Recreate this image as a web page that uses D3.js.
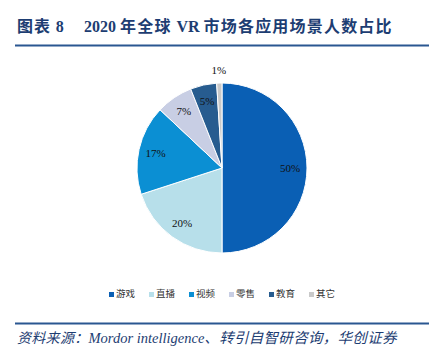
<!DOCTYPE html>
<html>
<head>
<meta charset="utf-8">
<script src="https://cdn.jsdelivr.net/npm/d3@7"></script>
<style>
  body { margin: 0; background: #fff; }
  text { white-space: pre; }
</style>
</head>
<body>
<div id="chart"></div>
<script>
const w = 429;
const h = 363;

const categories = ["游戏", "直播", "视频", "零售", "教育", "其它"];
const values = [50, 20, 17, 7, 5, 1];
const colors = ["#0a5fb4", "#b7dfea", "#0b8fd3", "#c8cee4", "#275c8f", "#c9c9c9"];

const navy = "#1d3d72";

const svg = d3.select("div#chart")
  .append("svg")
    .attr("width", w)
    .attr("height", h);

// title
const title = svg.append("text")
    .attr("x", 17)
    .attr("y", 32)
    .attr("fill", navy)
    .attr("font-weight", "bold")
    .attr("font-size", 16);
title.append("tspan")
    .attr("font-family", "Noto Sans CJK SC")
    .attr("letter-spacing", 1)
    .text("图表 ");
title.append("tspan")
    .attr("font-family", "Liberation Serif")
    .text("8");
title.append("tspan")
    .attr("x", 84)
    .attr("font-family", "Liberation Serif")
    .text("2020 ");
title.append("tspan")
    .attr("font-family", "Noto Sans CJK SC")
    .attr("letter-spacing", 1.2)
    .text("年全球 ");
title.append("tspan")
    .attr("font-family", "Liberation Serif")
    .text("VR ");
title.append("tspan")
    .attr("font-family", "Noto Sans CJK SC")
    .attr("letter-spacing", 1.2)
    .text("市场各应用场景人数占比");

svg.append("line")
    .attr("x1", 15).attr("x2", w)
    .attr("y1", 45.5).attr("y2", 45.5)
    .attr("stroke", "#2a5791")
    .attr("stroke-width", 2);

// pie
const cx = 222, cy = 168, r = 85;

const pie = d3.pie().sort(null).value(d => d);
const arcs = pie(values);
const arc = d3.arc().innerRadius(0).outerRadius(r);
const labelArc = d3.arc().innerRadius(r * 0.8).outerRadius(r * 0.8);
const outerArc = d3.arc().innerRadius(r + 13).outerRadius(r + 13);

const g = svg.append("g")
    .attr("transform", `translate(${cx}, ${cy})`);

g.selectAll("path")
    .data(arcs)
  .enter().append("path")
    .attr("d", arc)
    .attr("fill", (d, i) => colors[i])
    .attr("stroke", "#fff")
    .attr("stroke-width", 1);

g.selectAll("text")
    .data(arcs)
  .enter().append("text")
    .attr("transform", d => {
      const c = d.data < 3 ? outerArc.centroid(d) : labelArc.centroid(d);
      return `translate(${c[0]}, ${c[1] + 3.5})`;
    })
    .attr("text-anchor", "middle")
    .attr("font-family", "Liberation Serif")
    .attr("font-size", 11)
    .attr("fill", "#111")
    .text(d => d.data + "%");

// legend
const legend = svg.append("g")
    .attr("transform", "translate(109, 297)");

const item = legend.selectAll("g")
    .data(categories)
  .enter().append("g")
    .attr("transform", (d, i) => `translate(${i * 40}, 0)`);

item.append("rect")
    .attr("x", 0).attr("y", -5)
    .attr("width", 5).attr("height", 5)
    .attr("fill", (d, i) => colors[i]);

item.append("text")
    .attr("x", 7)
    .attr("y", 0)
    .attr("font-family", "Noto Sans CJK SC")
    .attr("font-size", 9.5)
    .attr("fill", "#333")
    .text(d => d);

// source
svg.append("line")
    .attr("x1", 15).attr("x2", w)
    .attr("y1", 323.5).attr("y2", 323.5)
    .attr("stroke", "#2a5791")
    .attr("stroke-width", 2);

const src = svg.append("text")
    .attr("x", 17)
    .attr("y", 343)
    .attr("fill", navy)
    .attr("font-style", "italic")
    .attr("font-size", 14);
src.append("tspan")
    .attr("font-family", "Noto Sans CJK SC")
    .attr("letter-spacing", 0.3)
    .text("资料来源：");
src.append("tspan")
    .attr("font-family", "Liberation Serif")
    .attr("font-size", 14.5)
    .text("Mordor intelligence");
src.append("tspan")
    .attr("font-family", "Noto Sans CJK SC")
    .attr("font-size", 14.5)
    .attr("letter-spacing", 0.3)
    .text("、转引自智研咨询，华创证券");
</script>
</body>
</html>
